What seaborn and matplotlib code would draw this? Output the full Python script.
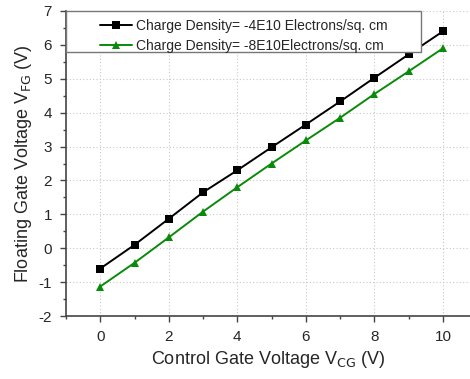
import matplotlib
matplotlib.use("Agg")
import matplotlib.pyplot as plt
from matplotlib.patches import Rectangle
from matplotlib.ticker import MultipleLocator
import pandas as pd
import seaborn as sns

# Control gate voltage sweep (V)
vcg = [0, 1, 2, 3, 4, 5, 6, 7, 8, 9, 10]
# Floating gate voltage for the two trapped charge densities (V)
vfg_4e10 = [-0.60, 0.10, 0.87, 1.65, 2.30, 2.98, 3.65, 4.33, 5.03, 5.72, 6.40]
vfg_8e10 = [-1.13, -0.43, 0.32, 1.08, 1.80, 2.50, 3.18, 3.85, 4.55, 5.22, 5.90]
labels = ["Charge Density= -4E10 Electrons/sq. cm",
          "Charge Density= -8E10Electrons/sq. cm"]

df = pd.concat([
    pd.DataFrame({"VCG": vcg, "VFG": vfg_4e10, "series": labels[0]}),
    pd.DataFrame({"VCG": vcg, "VFG": vfg_8e10, "series": labels[1]}),
])

sns.set_style("white")
plt.rcParams["font.family"] = ["Liberation Sans", "DejaVu Sans"]
plt.rcParams["axes.unicode_minus"] = False

fig = plt.figure(figsize=(4.7, 3.79), dpi=100)
ax = fig.add_axes([66 / 470, 63 / 379, 404 / 470, 305 / 379])

sns.lineplot(data=df, x="VCG", y="VFG", hue="series", style="series",
             palette=["black", "#0a8a0a"], markers=["s", "^"], dashes=False,
             markersize=5.5, linewidth=1.4, markeredgewidth=0, ax=ax)

ax.set_xlim(-1, 10.79)
ax.set_ylim(-2, 7)
ax.xaxis.set_major_locator(MultipleLocator(2))
ax.xaxis.set_minor_locator(MultipleLocator(1))
ax.yaxis.set_major_locator(MultipleLocator(1))
ax.yaxis.set_minor_locator(MultipleLocator(0.5))
ax.tick_params(which="major", direction="out", length=4, width=1, color="#444444",
               labelsize=11, pad=6, bottom=True, left=True)
ax.tick_params(which="minor", direction="out", length=2, width=1, color="#444444",
               bottom=True, left=True)
ax.grid(True, which="major", linestyle=(0, (1, 2)), color="#c8c8c8", linewidth=0.8)

for side in ["top", "right"]:
    ax.spines[side].set_visible(False)
for side in ["left", "bottom"]:
    ax.spines[side].set_color("#444444")
    ax.spines[side].set_linewidth(1.2)

ax.set_xlabel(r"Control Gate Voltage V$_{\rm CG}$ (V)", fontsize=13, labelpad=4)
ax.set_ylabel(r"Floating Gate Voltage V$_{\rm FG}$ (V)", fontsize=13, labelpad=3)

# Legend box frame, with the entries placed inside it
frame = Rectangle((0.0, 0.866), 0.879, 0.134, transform=ax.transAxes,
                  facecolor="white", edgecolor="#777777", linewidth=1.0,
                  zorder=4, clip_on=False)
ax.add_patch(frame)
leg = ax.legend(loc="upper left", bbox_to_anchor=(0.085, 0.975), frameon=False,
                fontsize=10, handlelength=2.3, handletextpad=0.25, borderpad=0.0,
                labelspacing=0.45, borderaxespad=0.0)
leg.set_zorder(5)

fig.savefig("out.png", dpi=100)
